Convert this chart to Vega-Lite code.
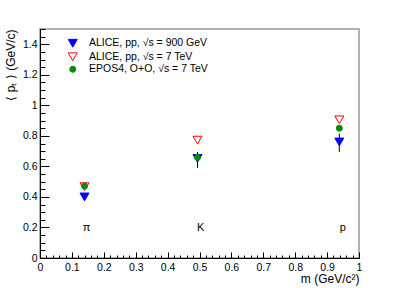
{
  "$schema": "https://vega.github.io/schema/vega-lite/v6.json",
  "width": 319,
  "height": 229,
  "autosize": "none",
  "padding": {"left": 40, "top": 29, "right": 40, "bottom": 30},
  "background": "white",
  "config": {
    "font": "Liberation Sans",
    "view": {"stroke": "#999", "strokeWidth": 1.5},
    "axis": {
      "grid": false, "domainColor": "#000", "tickColor": "#000", "labelColor": "#000", "titleColor": "#000",
      "labelFont": "Liberation Sans", "labelFontSize": 10.5, "titleFont": "Liberation Sans", "titleFontSize": 12,
      "titleFontWeight": "normal", "labelOverlap": false, "labelFlush": false, "labelBound": false, "tickWidth": 1, "domainWidth": 1
    }
  },
  "resolve": {"axis": {"x": "independent", "y": "independent"}},
  "datasets": {
    "pts": [
      {"particle": "pi", "m": 0.1396, "series": "ALICE, pp, √s = 900 GeV", "val": 0.40, "lo": 0.385, "hi": 0.42},
      {"particle": "K", "m": 0.4937, "series": "ALICE, pp, √s = 900 GeV", "val": 0.652, "lo": 0.59, "hi": 0.695},
      {"particle": "p", "m": 0.9383, "series": "ALICE, pp, √s = 900 GeV", "val": 0.76, "lo": 0.695, "hi": 0.815},
      {"particle": "pi", "m": 0.1396, "series": "ALICE, pp, √s = 7 TeV", "val": 0.467, "lo": null, "hi": null},
      {"particle": "K", "m": 0.4937, "series": "ALICE, pp, √s = 7 TeV", "val": 0.772, "lo": null, "hi": null},
      {"particle": "p", "m": 0.9383, "series": "ALICE, pp, √s = 7 TeV", "val": 0.905, "lo": null, "hi": null},
      {"particle": "pi", "m": 0.1396, "series": "EPOS4, O+O, √s = 7 TeV", "val": 0.472, "lo": null, "hi": null},
      {"particle": "K", "m": 0.4937, "series": "EPOS4, O+O, √s = 7 TeV", "val": 0.659, "lo": null, "hi": null},
      {"particle": "p", "m": 0.9383, "series": "EPOS4, O+O, √s = 7 TeV", "val": 0.85, "lo": null, "hi": null}
    ],
    "labels": [
      {"name": "π", "lx": 0.146, "ly": 0.196},
      {"name": "K", "lx": 0.504, "ly": 0.196},
      {"name": "p", "lx": 0.949, "ly": 0.196}
    ]
  },
  "layer": [
    {
      "data": {"name": "pts"},
      "transform": [{"filter": "datum.lo != null"}],
      "mark": {"type": "rule", "color": "#000", "strokeWidth": 1},
      "encoding": {
        "x": {
          "field": "m", "type": "quantitative",
          "scale": {"domain": [0, 1], "nice": false, "zero": false},
          "axis": {
            "orient": "bottom",
            "values": [0,0.1,0.2,0.3,0.4,0.5,0.6,0.7,0.8,0.9,1],
            "format": "~g",
            "labelOverlap": false,
            "tickSize": -6,
            "labelPadding": 10,
            "title": "m (GeV/c²)",
            "titleX": 319, "titleY": 20, "titleAlign": "right", "titleBaseline": "middle", "titleAnchor": "end"
          }
        },
        "y": {
          "field": "lo", "type": "quantitative",
          "scale": {"domain": [0, 1.5], "nice": false, "zero": false},
          "axis": {
            "orient": "left",
            "values": [0,0.2,0.4,0.6,0.8,1,1.2,1.4],
            "format": "~g",
            "labelOverlap": false,
            "tickSize": -9,
            "labelPadding": 12,
            "title": "⟨ pₜ ⟩ (GeV/c)",
            "titleX": -30, "titleY": 0, "titleAlign": "right", "titleBaseline": "middle", "titleAngle": -90
          }
        },
        "y2": {"field": "hi"}
      }
    },
    {
      "data": {"name": "pts"},
      "mark": {"type": "point", "strokeWidth": 1, "opacity": 1},
      "encoding": {
        "x": {"field": "m", "type": "quantitative",
          "axis": {"orient": "bottom", "values": [0.02,0.04,0.06,0.08,0.12,0.14,0.16,0.18,0.22,0.24,0.26,0.28,0.32,0.34,0.36,0.38,0.42,0.44,0.46,0.48,0.52,0.54,0.56,0.58,0.62,0.64,0.66,0.68,0.72,0.74,0.76,0.78,0.82,0.84,0.86,0.88,0.92,0.94,0.96,0.98],
            "labels": false, "domain": false, "tickSize": -3, "title": null}},
        "y": {"field": "val", "type": "quantitative",
          "axis": {"orient": "left", "values": [0.05,0.1,0.15,0.25,0.3,0.35,0.45,0.5,0.55,0.65,0.7,0.75,0.85,0.9,0.95,1.05,1.1,1.15,1.25,1.3,1.35,1.45,1.5],
            "labels": false, "domain": false, "tickSize": -5, "title": null}},
        "shape": {
          "field": "series", "type": "nominal",
          "scale": {"domain": ["ALICE, pp, √s = 900 GeV", "ALICE, pp, √s = 7 TeV", "EPOS4, O+O, √s = 7 TeV"], "range": ["triangle-down", "triangle-down", "circle"]},
          "legend": {"orient": "none", "legendX": 27.5, "legendY": 9, "title": null, "padding": 0, "labelFontSize": 10.5, "labelFont": "Liberation Sans", "labelOffset": 11, "rowPadding": 0.5, "symbolStrokeWidth": 1, "labelColor": "#000"}
        },
        "fill": {
          "field": "series", "type": "nominal",
          "scale": {"domain": ["ALICE, pp, √s = 900 GeV", "ALICE, pp, √s = 7 TeV", "EPOS4, O+O, √s = 7 TeV"], "range": ["#0000ff", "transparent", "#008c00"]}
        },
        "stroke": {
          "field": "series", "type": "nominal",
          "scale": {"domain": ["ALICE, pp, √s = 900 GeV", "ALICE, pp, √s = 7 TeV", "EPOS4, O+O, √s = 7 TeV"], "range": ["#0000ff", "#ff0000", "#008c00"]}
        },
        "size": {
          "field": "series", "type": "nominal",
          "scale": {"type": "ordinal", "domain": ["ALICE, pp, √s = 900 GeV", "ALICE, pp, √s = 7 TeV", "EPOS4, O+O, √s = 7 TeV"], "range": [81, 81, 36]}
        }
      }
    },
    {
      "data": {"name": "labels"},
      "mark": {"type": "text", "fontSize": 11, "font": "Liberation Sans", "color": "#000", "align": "center", "baseline": "middle"},
      "encoding": {
        "x": {"field": "lx", "type": "quantitative", "axis": null},
        "y": {"field": "ly", "type": "quantitative", "axis": null},
        "text": {"field": "name"}
      }
    }
  ]
}
